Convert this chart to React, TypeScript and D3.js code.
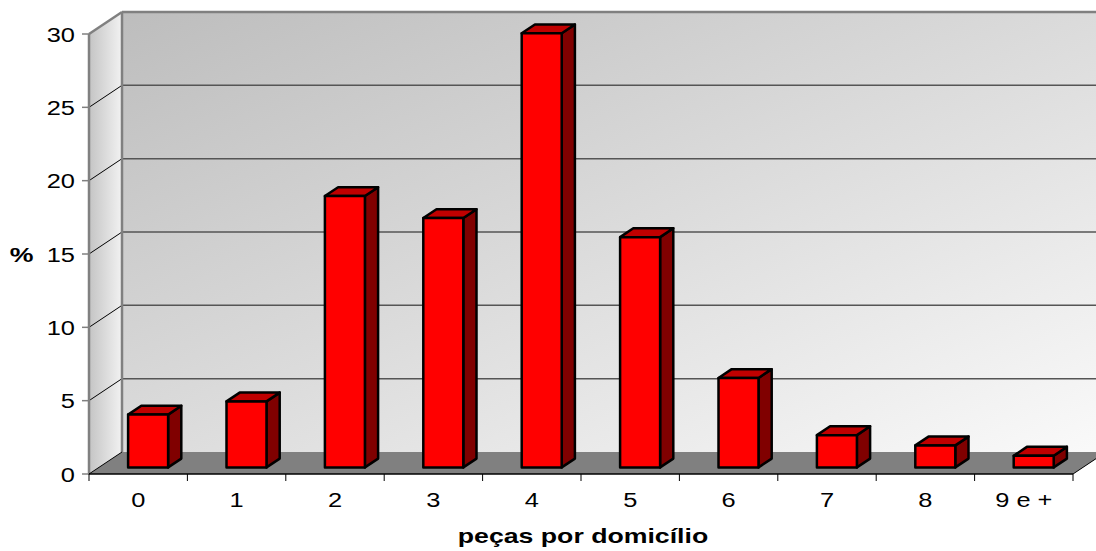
import React from "react";
import * as d3 from "d3";

const categories = ["0", "1", "2", "3", "4", "5", "6", "7", "8", "9 e +"];
const values = [3.6, 4.5, 18.5, 17.0, 29.6, 15.7, 6.1, 2.2, 1.5, 0.8];
const yTicks = [0, 5, 10, 15, 20, 25, 30];

const W = 1096;
const H = 551;
const x0 = 89;
const x1 = 1073;
const yBase = 474;
const yTop = 34;
// floor / wall depth offset
const DX = 33;
const DY = -22;
// bar placement inside the depth
const barFront = 0.3;
const barBack = 0.7;
const barW = 40;
const STRETCH = 1.27;

export default function App() {
  const x = d3.scaleBand<string>().domain(categories).range([x0, x1]);
  const y = d3.scaleLinear().domain([0, 30]).range([yBase, yTop]);

  const ff = "'Liberation Sans', Arial, sans-serif";

  const label = (tx: number, ty: number, text: string, anchor: string, bold = false, size = 20) => (
    <text
      key={`${text}-${tx}-${ty}`}
      transform={`translate(${tx},${ty}) scale(${STRETCH},1)`}
      textAnchor={anchor}
      fontFamily={ff}
      fontSize={size}
      fontWeight={bold ? "bold" : "normal"}
      fill="#000"
    >
      {text}
    </text>
  );

  return (
    <svg width={W} height={H} style={{ position: "absolute", left: 0, top: 0 }}>
      <defs>
        <linearGradient id="backWall" x1="0" y1="0" x2="1" y2="1">
          <stop offset="0" stopColor="#bdbdbd" />
          <stop offset="1" stopColor="#fafafa" />
        </linearGradient>
        <linearGradient id="sideWall" x1="0" y1="0" x2="1" y2="0">
          <stop offset="0" stopColor="#c4c4c4" />
          <stop offset="1" stopColor="#f2f2f2" />
        </linearGradient>
      </defs>
      <rect width={W} height={H} fill="#fff" />

      {/* back wall */}
      <rect x={x0 + DX} y={yTop + DY} width={x1 - x0 + 10} height={yBase - yTop} fill="url(#backWall)" />
      {/* side wall */}
      <path
        d={`M${x0},${yBase} L${x0},${yTop} L${x0 + DX},${yTop + DY} L${x0 + DX},${yBase + DY} Z`}
        fill="url(#sideWall)"
      />
      {/* floor */}
      <path
        d={`M${x0},${yBase} L${x0 + DX},${yBase + DY} L${x1 + DX},${yBase + DY} L${x1},${yBase} Z`}
        fill="#808080"
      />

      {/* gridlines */}
      {yTicks.slice(1, -1).map((t) => (
        <g key={t}>
          <line x1={x0} y1={y(t)} x2={x0 + DX} y2={y(t) + DY} stroke="#000" strokeWidth={1} />
          <line x1={x0 + DX} y1={y(t) + DY} x2={W} y2={y(t) + DY} stroke="#555" strokeWidth={1.5} />
        </g>
      ))}

      {/* wall borders */}
      <line x1={x0 + DX} y1={yTop + DY} x2={W} y2={yTop + DY} stroke="#808080" strokeWidth={2.5} />
      <line x1={x0} y1={yTop} x2={x0 + DX} y2={yTop + DY} stroke="#808080" strokeWidth={2.5} />
      <line x1={x0 + DX} y1={yTop + DY} x2={x0 + DX} y2={yBase + DY} stroke="#808080" strokeWidth={2.5} />
      <line x1={x0} y1={yTop} x2={x0} y2={yBase} stroke="#808080" strokeWidth={2.5} />

      {/* floor edges */}
      <line x1={x0} y1={yBase} x2={x0 + DX} y2={yBase + DY} stroke="#000" strokeWidth={1} />
      <line x1={x1} y1={yBase} x2={x1 + DX} y2={yBase + DY} stroke="#000" strokeWidth={1} />

      {/* bars */}
      {categories.map((c, i) => {
        const v = values[i];
        const cx = (x(c) as number) + x.bandwidth() / 2;
        const fdx = DX * barFront;
        const fdy = DY * barFront;
        const bdx = DX * barBack;
        const bdy = DY * barBack;
        const l = cx - barW / 2 + fdx;
        const r = l + barW;
        const b = yBase + fdy;
        const t = y(v) + fdy;
        const ox = bdx - fdx;
        const oy = bdy - fdy;
        return (
          <g key={c} stroke="#000" strokeWidth={2.5} strokeLinejoin="round">
            <path d={`M${r},${b} L${r + ox},${b + oy} L${r + ox},${t + oy} L${r},${t} Z`} fill="#800000" />
            <path d={`M${l},${t} L${l + ox},${t + oy} L${r + ox},${t + oy} L${r},${t} Z`} fill="#c00000" />
            <rect x={l} y={t} width={barW} height={b - t} fill="#ff0000" />
          </g>
        );
      })}

      {/* value axis */}
      {yTicks.map((t) => (
        <g key={t}>
          <line x1={x0 - 7} y1={y(t)} x2={x0} y2={y(t)} stroke="#808080" strokeWidth={1.5} />
          {label(x0 - 14, y(t) + 7.5, String(t), "end")}
        </g>
      ))}

      {/* category axis */}
      <line x1={x0} y1={yBase} x2={x1} y2={yBase} stroke="#000" strokeWidth={1.5} />
      {d3.range(categories.length + 1).map((i) => {
        const tx = x0 + i * x.step();
        return <line key={i} x1={tx} y1={yBase} x2={tx} y2={yBase + 7} stroke="#000" strokeWidth={1} />;
      })}
      {categories.map((c) => label((x(c) as number) + x.bandwidth() / 2, 507, c, "middle"))}

      {label(583, 543, "peças por domicílio", "middle", true, 21)}
      {label(21.5, 262, "%", "middle", true, 21)}
    </svg>
  );
}
